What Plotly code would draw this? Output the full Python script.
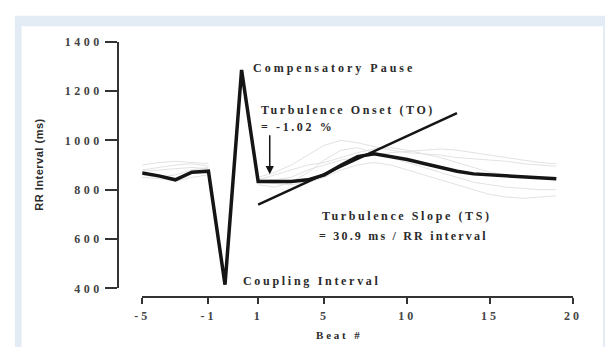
import plotly.graph_objects as go

# ---------------- data ----------------
pre_beats = [-5, -4, -3, -2, -1]
post_beats = list(range(1, 20))
pre_rr = [868, 856, 840, 871, 875]
coupling_rr = 415
compensatory_rr = 1285
post_rr = [833, 833, 833, 840, 860, 899, 934, 945, 934, 922, 906, 891, 875,
           864, 860, 856, 852, 848, 844]

# faint individual tachograms (pre -5..-1, post 1..19)
grey_pre = [
    [880, 890, 900, 905, 895],
    [860, 850, 860, 880, 890],
    [900, 910, 915, 910, 905],
    [850, 845, 835, 850, 860],
    [875, 880, 885, 890, 885],
]
grey_post = [
    [850, 870, 900, 940, 980, 1000, 990, 975, 960, 950, 945, 940, 930, 925, 920, 915, 905, 900, 895],
    [820, 810, 830, 870, 920, 960, 970, 950, 930, 910, 890, 870, 850, 830, 820, 810, 805, 800, 800],
    [840, 860, 880, 900, 910, 930, 950, 965, 970, 960, 945, 930, 910, 890, 870, 860, 855, 850, 850],
    [830, 825, 820, 830, 850, 880, 900, 910, 900, 880, 860, 840, 820, 800, 780, 770, 765, 770, 775],
    [845, 840, 850, 880, 900, 920, 930, 940, 950, 955, 960, 965, 960, 950, 940, 930, 920, 910, 905],
]

# turbulence slope regression line (beat, RR)
ts_beats = [1, 13]
ts_rr = [739, 1110]

# turbulence onset arrow (beat position, tip RR, tail RR)
to_arrow_beat = 1.7
to_arrow_tip = 863
to_arrow_tail = 1027

x_tick_beats = [-5, -1, 1, 5, 10, 15, 20]
y_ticks = [400, 600, 800, 1000, 1200, 1400]


# sequence position on the axis: pre beats, coupling (0), compensatory pause, post beats
def pos_pre(b):
    return b + 5


def pos_post(b):
    return b + 6


POS_C = 5
POS_CP = 6

W, H = 614, 354


def fx(px):
    return px / W


def fy(py):
    return 1 - py / H


INK = "#151515"
TXT = "#2b2b2b"
SERIF = "Liberation Serif, Times New Roman, serif"


def spaced(t, ls):
    return f"<span style='letter-spacing:{ls}px'>{t}</span>"


fig = go.Figure()

# grey individual traces
for gp, gq in zip(grey_pre, grey_post):
    xs = [pos_pre(b) for b in pre_beats] + [None] + [pos_post(b) for b in post_beats]
    ys = gp + [None] + gq
    fig.add_trace(go.Scatter(x=xs, y=ys, mode="lines",
                             line=dict(color="#e2e2e2", width=1),
                             connectgaps=False, hoverinfo="skip", showlegend=False))

# main averaged tachogram
main_x = [pos_pre(b) for b in pre_beats] + [POS_C, POS_CP] + [pos_post(b) for b in post_beats]
main_y = pre_rr + [coupling_rr, compensatory_rr] + post_rr
fig.add_trace(go.Scatter(x=main_x, y=main_y, mode="lines",
                         line=dict(color=INK, width=3.5),
                         showlegend=False))

# turbulence slope line
fig.add_trace(go.Scatter(x=[pos_post(b) for b in ts_beats], y=ts_rr, mode="lines",
                         line=dict(color=INK, width=2.5), showlegend=False))

# background frame
shapes = [
    dict(type="rect", xref="paper", yref="paper", x0=fx(7), x1=fx(614), y0=fy(354), y1=fy(9),
         fillcolor="#e3ebf4", line=dict(width=0), layer="below"),
    dict(type="rect", xref="paper", yref="paper", x0=fx(14), x1=fx(612), y0=fy(354), y1=fy(20),
         fillcolor="#ffffff", line=dict(width=0), layer="below"),
]

ann_font = dict(family=SERIF, size=12, color=TXT)
annotations = [
    dict(text=spaced("<b>Compensatory Pause</b>", 3.0), x=fx(250), y=fy(64)),
    dict(text=spaced("<b>Turbulence Onset (TO)</b>", 2.6), x=fx(258), y=fy(107)),
    dict(text=spaced("<b>= -1.02 %</b>", 2.6), x=fx(258), y=fy(125)),
    dict(text=spaced("<b>Turbulence Slope (TS)</b>", 2.6), x=fx(321), y=fy(218)),
    dict(text=spaced("<b>= 30.9 ms / RR interval</b>", 2.2), x=fx(318), y=fy(238)),
    dict(text=spaced("<b>Coupling Interval</b>", 2.7), x=fx(240), y=fy(285)),
]
annotations = [dict(a, xref="paper", yref="paper", xanchor="left", yanchor="middle",
                    showarrow=False, font=ann_font) for a in annotations]

annotations.append(dict(text=spaced("<b>Beat #</b>", 2.8), xref="paper", yref="paper",
                        x=fx(340), y=fy(342), xanchor="center", yanchor="middle",
                        showarrow=False, font=dict(family=SERIF, size=11, color=TXT)))
annotations.append(dict(text=spaced("<b>RR Interval (ms)</b>", 0.5), xref="paper", yref="paper",
                        x=fx(31), y=fy(164), xanchor="center", yanchor="middle",
                        textangle=-90, showarrow=False,
                        font=dict(family="Liberation Sans, Arial, sans-serif", size=11, color=TXT)))

# TO arrow
annotations.append(dict(x=pos_post(to_arrow_beat), y=to_arrow_tip, xref="x", yref="y",
                        ax=pos_post(to_arrow_beat), ay=to_arrow_tail, axref="x", ayref="y",
                        text="", showarrow=True, arrowhead=2, arrowsize=1.1,
                        arrowwidth=1.5, arrowcolor=INK))

x_tick_pos = [pos_pre(b) if b < 0 else pos_post(b) for b in x_tick_beats]

fig.update_layout(
    width=W, height=H,
    margin=dict(l=0, r=0, t=0, b=0),
    paper_bgcolor="#ffffff",
    plot_bgcolor="rgba(0,0,0,0)",
    shapes=shapes,
    annotations=annotations,
    xaxis=dict(domain=[fx(138), fx(581)], range=[0, 26], anchor="free", position=fy(302),
               showgrid=False, zeroline=False, showline=True, linecolor="#333", linewidth=1.5,
               ticks="outside", ticklen=6, tickwidth=1.5, tickcolor="#333",
               tickmode="array", tickvals=x_tick_pos,
               ticktext=[spaced(f"<b>{b}</b>", 3) for b in x_tick_beats],
               tickfont=dict(family=SERIF, size=12, color="#444"),
               ticklabelstandoff=2),
    yaxis=dict(domain=[fy(293), fy(36)], range=[400, 1400], anchor="free", position=fx(113),
               showgrid=False, zeroline=False, showline=True, linecolor="#333", linewidth=1.5,
               ticks="outside", ticklen=12, tickwidth=1.5, tickcolor="#333",
               tickmode="array", tickvals=y_ticks,
               ticktext=[spaced(f"<b>{v}</b>", 3.5) for v in y_ticks],
               tickfont=dict(family=SERIF, size=12, color="#444")),
    showlegend=False,
)

fig.write_html("out.html", config={"displayModeBar": False},
               post_script="document.body.style.margin='0';document.body.style.overflow='hidden';")
